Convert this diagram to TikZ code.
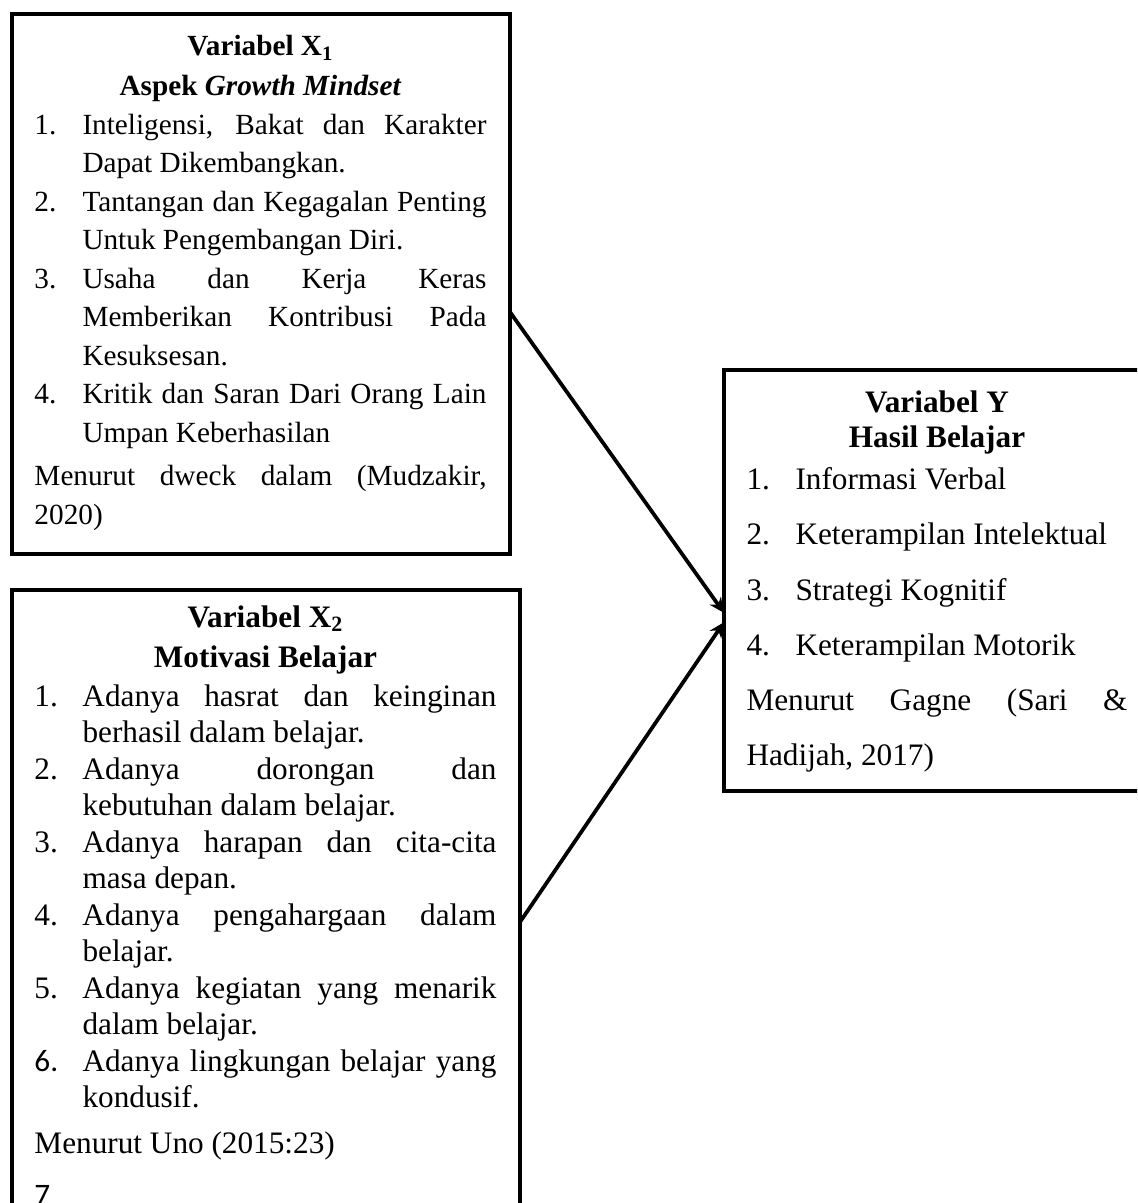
\documentclass[tikz,border=0pt]{standalone}
\usepackage{fontspec}
\setmainfont{Liberation Serif}
\newfontfamily\calfont{Carlito}
\usetikzlibrary{calc}
\usetikzlibrary{positioning}
\usetikzlibrary{arrows.meta}

\newlength{\numw}
\newcommand{\butir}[2]{\par\hangindent=\numw\hangafter=1\noindent\makebox[\numw][l]{#1}#2\par}
\newcommand{\judul}[1]{\noindent\makebox[\linewidth]{\textbf{#1}}\par}

\begin{document}
\begin{tikzpicture}[x=0.4pt,y=-0.4pt,
	kotak/.style={draw,line width=1.6pt,outer sep=0pt,inner sep=0pt,anchor=north west},
	isi/.style={align=justify,inner sep=0pt,anchor=base west,execute at begin node={\hbadness=10000\hyphenpenalty=10000}},
	panah/.style={line width=1.5pt,-{Stealth[length=6pt,width=5.5pt]}}]
	\path[use as bounding box,clip] (0,0) rectangle (1137,1203);
	
	\node[kotak,minimum width=199.2pt,minimum height=216pt] (boxXa) at (12,14) {};
	\node[kotak,minimum width=203.2pt,minimum height=265.6pt] (boxXb) at (12,590) {};
	\node[kotak,minimum width=168.8pt,minimum height=168.4pt] (boxY) at (724,370) {};
	
	\node[isi,text width=180.8pt] (teksXa) at ($(boxXa.north west)+(22,42)$) {%
		\fontsize{11.7}{15.4}\selectfont\setlength{\numw}{19.2pt}%
		\judul{Variabel X\textsubscript{1}}%
		\vspace{0.6pt}%
		\judul{Aspek \textit{Growth Mindset}}%
		\butir{1.}{Inteligensi, Bakat dan Karakter\linebreak Dapat Dikembangkan.}%
		\butir{2.}{Tantangan dan Kegagalan Penting\linebreak Untuk Pengembangan Diri.}%
		\butir{3.}{Usaha dan Kerja Keras\linebreak Memberikan Kontribusi Pada\linebreak Kesuksesan.}%
		\butir{4.}{Kritik dan Saran Dari Orang Lain\linebreak Umpan Keberhasilan}%
		\vspace{1.8pt}%
		\noindent Menurut dweck dalam (Mudzakir,\linebreak 2020)\par};
	
	\node[isi,text width=184.8pt] (teksXb) at ($(boxXb.north west)+(22,37)$) {%
		\fontsize{12.5}{14.6}\selectfont\setlength{\numw}{19.2pt}%
		\judul{Variabel X\textsubscript{2}}%
		\vspace{1.4pt}%
		\judul{Motivasi Belajar}%
		\vspace{1pt}%
		\butir{1.}{Adanya hasrat dan keinginan\linebreak berhasil dalam belajar.}%
		\butir{2.}{Adanya dorongan dan\linebreak kebutuhan dalam belajar.}%
		\butir{3.}{Adanya harapan dan cita-cita\linebreak masa depan.}%
		\butir{4.}{Adanya pengahargaan dalam\linebreak belajar.}%
		\butir{5.}{Adanya kegiatan yang menarik\linebreak dalam belajar.}%
		\butir{{\calfont 6.}}{Adanya lingkungan belajar yang\linebreak kondusif.}%
		\vspace{3.6pt}%
		\noindent Menurut Uno (2015:23)\par
		\vspace{6.4pt}%
		\noindent{\calfont 7}\par};
	
	\node[isi,text width=152.4pt] (teksY) at ($(boxY.north west)+(22,43)$) {%
		\fontsize{12.5}{22}\selectfont\setlength{\numw}{19.6pt}%
		\judul{Variabel Y}%
		\vspace{-8pt}%
		\judul{Hasil Belajar}%
		\vspace{-5.2pt}%
		\butir{1.}{Informasi Verbal}%
		\butir{2.}{Keterampilan Intelektual}%
		\butir{3.}{Strategi Kognitif}%
		\butir{4.}{Keterampilan Motorik}%
		\noindent Menurut Gagne (Sari \&\linebreak Hadijah, 2017)\par};
	
	\draw[panah] ($(boxXa.north east)!0.552!(boxXa.south east)$) -- ($(boxY.north west)!0.577!(boxY.south west)$);
	\draw[panah] (boxXb.east) -- ($(boxY.north west)!0.599!(boxY.south west)$);
\end{tikzpicture}
\end{document}
